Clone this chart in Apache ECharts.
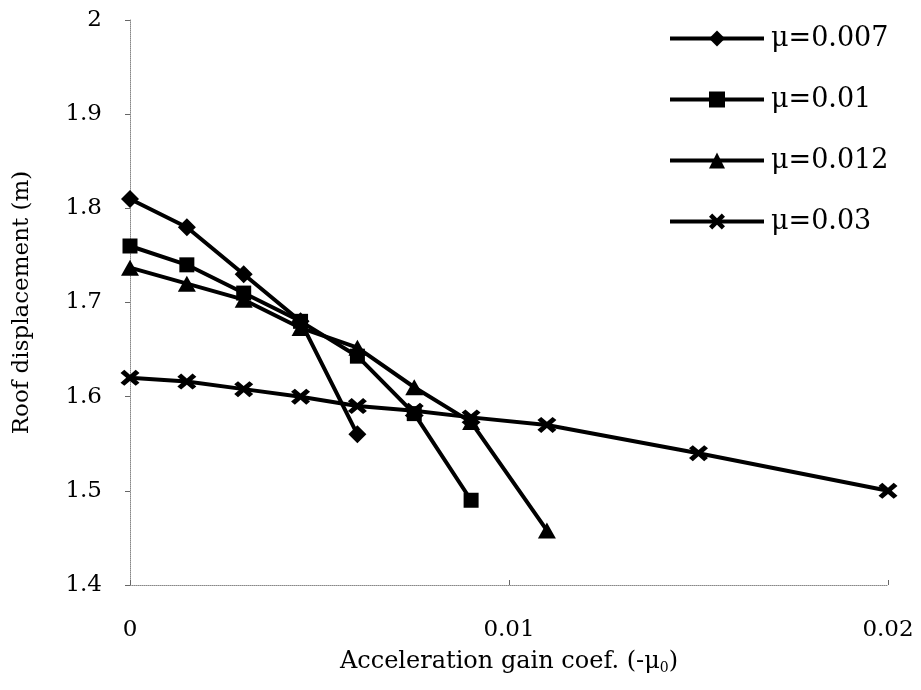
<!DOCTYPE html>
<html><head><meta charset="utf-8">
<script src="https://cdn.jsdelivr.net/npm/echarts@6/dist/echarts.min.js"></script>
<style>html,body{margin:0;padding:0;background:#fff}#c{width:921px;height:690px}</style>
</head><body><div id="c"></div>
<script>
var seriesNames = ['\u03bc=0.007', '\u03bc=0.01', '\u03bc=0.012', '\u03bc=0.03'];
var x007 = [0, 0.0015, 0.003, 0.0045, 0.006];
var y007 = [1.81, 1.78, 1.73, 1.68, 1.56];
var x01 = [0, 0.0015, 0.003, 0.0045, 0.006, 0.0075, 0.009];
var y01 = [1.76, 1.74, 1.71, 1.68, 1.643, 1.582, 1.49];
var x012 = [0, 0.0015, 0.003, 0.0045, 0.006, 0.0075, 0.009, 0.011];
var y012 = [1.737, 1.72, 1.703, 1.673, 1.652, 1.61, 1.573, 1.458];
var x03 = [0, 0.0015, 0.003, 0.0045, 0.006, 0.0075, 0.009, 0.011, 0.015, 0.02];
var y03 = [1.62, 1.616, 1.608, 1.60, 1.59, 1.585, 1.578, 1.57, 1.54, 1.50];
var xTicks = [0, 0.01, 0.02];
var yTicks = [1.4, 1.5, 1.6, 1.7, 1.8, 1.9, 2];

function pairs(xs, ys){ return xs.map(function(x,i){ return [x, ys[i]]; }); }
var crossPath = 'path://M2,0 L5,3 L8,0 L10,2 L7,5 L10,8 L8,10 L5,7 L2,10 L0,8 L3,5 L0,2 Z';
var symbols = ['diamond', 'rect', 'triangle', crossPath];
var sizes = [[18,18], 15, [18,16], [19,16]];
var datas = [pairs(x007,y007), pairs(x01,y01), pairs(x012,y012), pairs(x03,y03)];
var font = 'DejaVu Serif';

var chart = echarts.init(document.getElementById('c'));
chart.setOption({
  animation: false,
  backgroundColor: '#fff',
  grid: {left: 130, right: 33, top: 20, bottom: 105},
  legend: {
    orient: 'vertical', left: 668, top: 25, padding: 0,
    itemWidth: 94, itemHeight: 20, itemGap: 34,
    lineStyle: {width: 4, color: '#000'},
    textStyle: {fontFamily: font, fontSize: 27, color: '#000', padding: [0,0,0,2]},
    data: seriesNames
  },
  xAxis: {
    type: 'value', min: 0, max: 0.02, interval: 0.01,
    axisLine: {show: true, lineStyle: {color: '#888', type: 'dotted', width: 1}},
    axisTick: {show: true, inside: true, length: 5, lineStyle: {color: '#666'}},
    splitLine: {show: false},
    axisLabel: {fontFamily: font, fontSize: 23, color: '#000', margin: 34,
      formatter: function(v){ return v === 0 ? '0' : String(+v.toFixed(3)); }},
    name: 'Acceleration gain coef. (-\u03bc{sub|0})',
    nameLocation: 'middle', nameGap: 64,
    nameTextStyle: {fontFamily: font, fontSize: 24, color: '#000',
      rich: {sub: {fontFamily: font, fontSize: 14, verticalAlign: 'bottom', padding: [12,0,0,0], color: '#000'}}}
  },
  yAxis: {
    type: 'value', min: 1.4, max: 2, interval: 0.1,
    axisLine: {show: true, lineStyle: {color: '#888', type: 'dotted', width: 1}},
    axisTick: {show: true, length: 5, lineStyle: {color: '#666'}},
    splitLine: {show: false},
    axisLabel: {fontFamily: font, fontSize: 23, color: '#000', margin: 28,
      formatter: function(v){ return v === 2 ? '2' : v.toFixed(1); }},
    name: 'Roof displacement (m)', nameLocation: 'middle', nameGap: 96,
    nameTextStyle: {fontFamily: font, fontSize: 23, color: '#000'}
  },
  series: seriesNames.map(function(n, i){
    return {
      name: n, type: 'line', data: datas[i],
      symbol: symbols[i], symbolSize: sizes[i], showSymbol: true,
      itemStyle: {color: '#000'},
      lineStyle: {color: '#000', width: 4},
      z: 2 + i
    };
  })
});
</script></body></html>
